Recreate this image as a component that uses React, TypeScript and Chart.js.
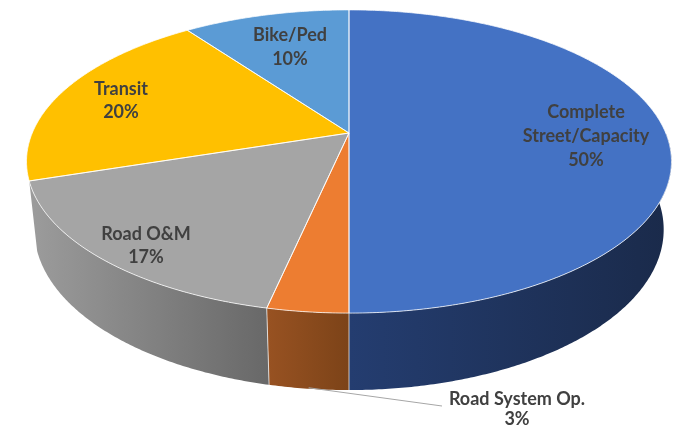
import React, { useEffect, useRef } from "react";
import { Chart, registerables } from "chart.js";

Chart.register(...registerables);

// ---- data ----
const categories = ["Complete Street/Capacity", "Road System Op.", "Road O&M", "Transit", "Bike/Ped"];
const labelLines = [["Complete", "Street/Capacity"], ["Road System Op."], ["Road O&M"], ["Transit"], ["Bike/Ped"]];
const shares = [50, 3.4, 16.6, 20, 10];

// ---- styles ----
const topColors = ["#4472C4", "#ED7D31", "#A5A5A5", "#FFC000", "#5B9BD5"];
const wallLight = ["#243d70", "#985222", "#9c9c9c", "#a88000", "#3a6a99"];
const wallDark = ["#1a2a4a", "#7c4318", "#686868", "#8a6600", "#2d5379"];

// label layout: center x, first line center y, line height
const labelAnchors = [
  { x: 586, y: 112, lh: 24 },
  { x: 517, y: 399, lh: 20 },
  { x: 146, y: 234, lh: 23 },
  { x: 121, y: 89, lh: 23 },
  { x: 290, y: 35, lh: 24 },
];
const leaderEnd = { x: 442, y: 406 };

// ---- 3D view geometry ----
const CX = 349;
const CY = 133;
const FOCAL = 1495;
const DIST = 4.72;
const ELEV = (27.5 * Math.PI) / 180;
const THICK = 0.2444;
const WALL_FROM = 0.0;
const WALL_TO = Math.PI - 0.315;

function project(u: number, v: number, z: number): [number, number] {
  const s = Math.sin(ELEV);
  const c = Math.cos(ELEV);
  const yw = -v;
  const yv = yw * s + z * c;
  const dep = DIST + yw * c - z * s;
  return [CX + (FOCAL * u) / dep, CY - (FOCAL * yv) / dep];
}

function arcPts(a0: number, a1: number, z: number, r = 1) {
  const pts: [number, number][] = [];
  const n = Math.max(2, Math.ceil(Math.abs(a1 - a0) / (Math.PI / 360)));
  for (let i = 0; i <= n; i++) {
    const a = a0 + ((a1 - a0) * i) / n;
    pts.push(project(r * Math.cos(a), r * Math.sin(a), z));
  }
  return pts;
}

const pie3d = {
  id: "pie3d",
  beforeDatasetsDraw(chart: any) {
    const ctx: CanvasRenderingContext2D = chart.ctx;
    const arcs = chart.getDatasetMeta(0).data;
    ctx.save();
    // side walls (front part)
    arcs.forEach((arc: any, i: number) => {
      const a0 = Math.max(arc.startAngle, WALL_FROM);
      const a1 = Math.min(arc.endAngle, WALL_TO);
      if (a1 <= a0 + 1e-6) return;
      const top = arcPts(a0, a1, 0);
      const bot = arcPts(a0, a1, -THICK).reverse();
      const all = top.concat(bot);
      let minX = Infinity, maxX = -Infinity;
      all.forEach((p) => { minX = Math.min(minX, p[0]); maxX = Math.max(maxX, p[0]); });
      const g = ctx.createLinearGradient(minX, 0, maxX, 0);
      g.addColorStop(0, wallLight[i]);
      g.addColorStop(1, wallDark[i]);
      ctx.beginPath();
      all.forEach((p, k) => (k === 0 ? ctx.moveTo(p[0], p[1]) : ctx.lineTo(p[0], p[1])));
      ctx.closePath();
      ctx.fillStyle = g;
      ctx.fill();
    });
    // vertical separators on walls
    ctx.strokeStyle = "rgba(255,255,255,0.7)";
    ctx.lineWidth = 1;
    arcs.forEach((arc: any) => {
      const a = arc.startAngle;
      if (a > 0.05 && a < WALL_TO - 0.05) {
        const p = project(Math.cos(a), Math.sin(a), 0);
        const q = project(Math.cos(a), Math.sin(a), -THICK);
        ctx.beginPath();
        ctx.moveTo(p[0], p[1]);
        ctx.lineTo(q[0], q[1]);
        ctx.stroke();
      }
    });
    // top faces
    const c = project(0, 0, 0);
    arcs.forEach((arc: any, i: number) => {
      const pts = arcPts(arc.startAngle, arc.endAngle, 0);
      ctx.beginPath();
      ctx.moveTo(c[0], c[1]);
      pts.forEach((p) => ctx.lineTo(p[0], p[1]));
      ctx.closePath();
      ctx.fillStyle = topColors[i];
      ctx.fill();
    });
    arcs.forEach((arc: any) => {
      const pts = arcPts(arc.startAngle, arc.endAngle, 0);
      ctx.beginPath();
      ctx.moveTo(c[0], c[1]);
      pts.forEach((p) => ctx.lineTo(p[0], p[1]));
      ctx.closePath();
      ctx.strokeStyle = "rgba(255,255,255,0.75)";
      ctx.lineWidth = 1;
      ctx.stroke();
    });
    ctx.restore();
    return false;
  },
  afterDraw(chart: any) {
    const ctx: CanvasRenderingContext2D = chart.ctx;
    const arcs = chart.getDatasetMeta(0).data;
    const total = shares.reduce((a, b) => a + b, 0);
    ctx.save();
    // leader line for the small slice
    const small = arcs[1];
    const mid = (small.startAngle + small.endAngle) / 2;
    const s = project(Math.cos(mid), Math.sin(mid), -THICK);
    ctx.strokeStyle = "#a6a6a6";
    ctx.lineWidth = 1;
    ctx.beginPath();
    ctx.moveTo(s[0], s[1] - 1);
    ctx.lineTo(leaderEnd.x, leaderEnd.y);
    ctx.stroke();
    ctx.font = "bold 18px Lato, 'Open Sans', sans-serif";
    ctx.fillStyle = "#404040";
    ctx.textAlign = "center";
    ctx.textBaseline = "middle";
    shares.forEach((v, i) => {
      const lines = labelLines[i].concat([Math.round((v / total) * 100) + "%"]);
      const a = labelAnchors[i];
      lines.forEach((t, k) => ctx.fillText(t, a.x, a.y + k * a.lh));
    });
    ctx.restore();
  },
};

export default function App() {
  const ref = useRef<HTMLCanvasElement | null>(null);
  useEffect(() => {
    if (!ref.current) return;
    const chart = new Chart(ref.current, {
      type: "pie",
      data: {
        labels: categories,
        datasets: [{ data: shares, backgroundColor: topColors, borderWidth: 0 }],
      },
      options: {
        responsive: true,
        maintainAspectRatio: false,
        animation: false,
        plugins: { legend: { display: false }, tooltip: { enabled: false } },
      },
      plugins: [pie3d],
    });
    return () => chart.destroy();
  }, []);
  return (
    <div style={{ position: "fixed", left: 0, top: 0, width: 677, height: 431, background: "#fff" }}>
      <canvas ref={ref} />
    </div>
  );
}
